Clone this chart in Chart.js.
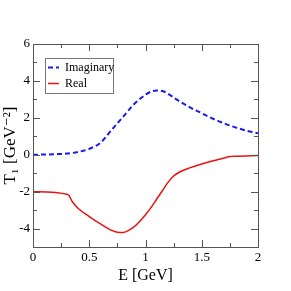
<!DOCTYPE html>
<html>
<head>
<script src="https://cdn.jsdelivr.net/npm/chart.js@4/dist/chart.umd.min.js"></script>
<style>
  html, body { margin: 0; padding: 0; background: #fff; }
  #wrap { width: 291px; height: 291px; }
</style>
</head>
<body>
<div id="wrap"><canvas id="t1-chart" width="291" height="291"></canvas></div>
<script>
// Data
const energyImag = [0, 0.1, 0.2, 0.3, 0.4, 0.5, 0.6, 0.7, 0.8, 0.9, 1.0, 1.05, 1.1, 1.15, 1.2, 1.3, 1.4, 1.5, 1.6, 1.7, 1.8, 1.9, 2.0];
const imagValues = [0, 0.01, 0.03, 0.06, 0.15, 0.32, 0.65, 1.35, 2.05, 2.75, 3.25, 3.42, 3.48, 3.45, 3.3, 2.9, 2.55, 2.25, 1.95, 1.7, 1.48, 1.3, 1.16];

const energyReal = [0, 0.31, 0.35, 0.4, 0.5, 0.6, 0.7, 0.75, 0.8, 0.85, 0.9, 0.95, 1.0, 1.05, 1.1, 1.15, 1.2, 1.25, 1.3, 1.4, 1.5, 1.6, 1.7, 1.75, 1.8, 2.0];
const realValues = [-2.0, -2.15, -2.55, -2.9, -3.35, -3.75, -4.1, -4.2, -4.22, -4.1, -3.9, -3.6, -3.25, -2.85, -2.4, -1.95, -1.5, -1.15, -0.95, -0.7, -0.5, -0.33, -0.18, -0.1, -0.08, -0.04];

const xTicks = [0, 0.5, 1, 1.5, 2];
const yTicks = [-4, -2, 0, 2, 4, 6];

const serif = "'Liberation Serif', 'DejaVu Serif', serif";

// inward ticks on all four sides + frame
const frameTicks = {
  id: 'frameTicks',
  afterDatasetsDraw(chart) {
    const { ctx, chartArea: a, scales: { x, y } } = chart;
    ctx.save();
    ctx.strokeStyle = '#555';
    ctx.lineWidth = 1;
    ctx.strokeRect(a.left + 0.5, a.top + 0.5, a.right - a.left, a.bottom - a.top);
    ctx.beginPath();
    for (let v = 0; v <= 2.0001; v += 0.25) {
      const px = Math.round(x.getPixelForValue(v)) + 0.5;
      const len = Math.abs(v * 2 - Math.round(v * 2)) < 1e-6 ? 7 : 4;
      ctx.moveTo(px, a.bottom); ctx.lineTo(px, a.bottom - len);
      ctx.moveTo(px, a.top); ctx.lineTo(px, a.top + len);
    }
    for (let v = -5; v <= 6; v += 1) {
      const py = Math.round(y.getPixelForValue(v)) + 0.5;
      const len = v % 2 === 0 ? 7 : 4;
      ctx.moveTo(a.left, py); ctx.lineTo(a.left + len, py);
      ctx.moveTo(a.right, py); ctx.lineTo(a.right - len, py);
    }
    ctx.stroke();
    ctx.restore();
  }
};

// legend box inside the plot
const innerLegend = {
  id: 'innerLegend',
  afterDraw(chart) {
    const { ctx } = chart;
    const left = 45, top = 58, w = 68, h = 35;
    ctx.save();
    ctx.fillStyle = '#fff';
    ctx.fillRect(left, top, w, h);
    ctx.strokeStyle = '#777';
    ctx.lineWidth = 1;
    ctx.strokeRect(left + 0.5, top + 0.5, w, h);
    chart.data.datasets.forEach((ds, i) => {
      const yy = top + 9.5 + i * 16;
      ctx.beginPath();
      ctx.strokeStyle = ds.borderColor;
      ctx.lineWidth = ds.borderWidth;
      ctx.setLineDash(ds.borderDash || []);
      ctx.moveTo(left + 3, yy);
      ctx.lineTo(left + 14, yy);
      ctx.stroke();
      ctx.setLineDash([]);
      ctx.fillStyle = '#000';
      ctx.font = '12px ' + serif;
      ctx.textBaseline = 'middle';
      ctx.fillText(ds.label, left + 20, yy);
    });
    ctx.restore();
  }
};

const toPoints = (xs, ys) => xs.map((e, i) => ({ x: e, y: ys[i] }));

new Chart(document.getElementById('t1-chart'), {
  type: 'line',
  data: {
    datasets: [
      {
        label: 'Imaginary',
        data: toPoints(energyImag, imagValues),
        borderColor: '#1a1aee',
        borderWidth: 2,
        borderDash: [5, 3],
        pointRadius: 0,
        cubicInterpolationMode: 'monotone'
      },
      {
        label: 'Real',
        data: toPoints(energyReal, realValues),
        borderColor: '#ee1111',
        borderWidth: 1.5,
        pointRadius: 0,
        cubicInterpolationMode: 'monotone'
      }
    ]
  },
  options: {
    responsive: false,
    animation: false,
    devicePixelRatio: 1,
    layout: { padding: { top: 44, right: 33, left: 0, bottom: 6 } },
    plugins: {
      legend: { display: false },
      tooltip: { enabled: false }
    },
    scales: {
      x: {
        type: 'linear',
        min: 0,
        max: 2,
        afterBuildTicks: s => { s.ticks = xTicks.map(v => ({ value: v })); },
        afterFit: s => { s.height = 38; },
        grid: { display: false, drawTicks: false },
        border: { display: false },
        ticks: {
          color: '#000',
          font: { family: serif, size: 13 },
          padding: 3,
          maxRotation: 0,
          callback: v => String(v)
        },
        title: {
          display: true,
          text: 'E [GeV]',
          color: '#000',
          font: { family: serif, size: 16 },
          padding: { top: 0, bottom: 0 }
        }
      },
      y: {
        min: -5,
        max: 6,
        afterBuildTicks: s => { s.ticks = yTicks.map(v => ({ value: v })); },
        afterFit: s => { s.width = 33; },
        grid: { display: false, drawTicks: false },
        border: { display: false },
        ticks: {
          color: '#000',
          font: { family: serif, size: 13 },
          padding: 3
        },
        title: {
          display: true,
          text: 'T\u2081 [GeV\u207B\u00B2]',
          color: '#000',
          font: { family: serif, size: 17 },
          padding: { top: 0, bottom: 0 }
        }
      }
    }
  },
  plugins: [frameTicks, innerLegend]
});
</script>
</body>
</html>
